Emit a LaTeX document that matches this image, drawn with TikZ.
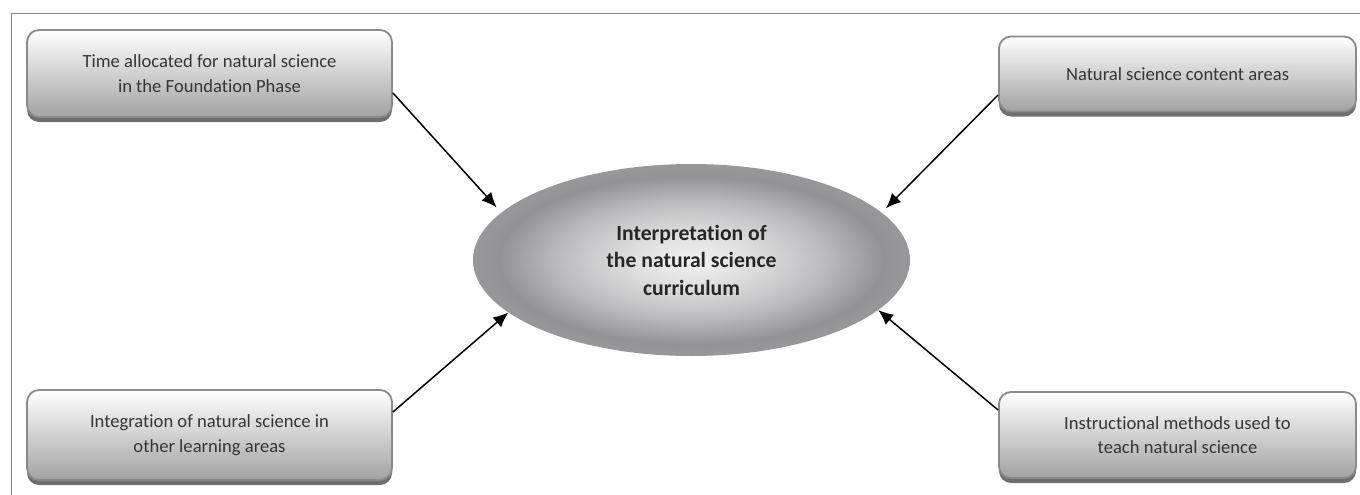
\documentclass[tikz,border=0pt]{standalone}
\usepackage{fontspec}
\setmainfont{Carlito}[Ligatures=NoCommon]
\usetikzlibrary{shapes.geometric,shadows,arrows.meta}
\definecolor{framec}{HTML}{858585}
\definecolor{boxborder}{HTML}{8A8A8A}
\definecolor{boxbottom}{HTML}{A2A2A2}
\definecolor{shadowc}{HTML}{6E6E6E}
\definecolor{textc}{HTML}{363636}
\definecolor{ec1}{HTML}{F2F2F2}
\definecolor{ec1b}{HTML}{DEDEDF}
\definecolor{ec2}{HTML}{BDBDBF}
\definecolor{ec3}{HTML}{939396}
\definecolor{ec4}{HTML}{98989B}
\pgfdeclareradialshading{ellshade}{\pgfpoint{0bp}{0bp}}{color(0bp)=(ec1); color(7bp)=(ec1b); color(15bp)=(ec2); color(22bp)=(ec3); color(25bp)=(ec4); color(50bp)=(ec4)}
\tikzset{
  infobox/.style={draw=boxborder, line width=1.8pt, rounded corners=12pt,
    top color=white, bottom color=boxbottom,
    drop shadow={shadow xshift=0pt, shadow yshift=-5pt, fill=shadowc, opacity=1},
    text=textc, align=center, inner sep=0pt,
    font=\fontsize{18.6}{24.5}\selectfont},
  centre/.style={ellipse, shading=ellshade, draw=none, minimum width=437pt,
    minimum height=192pt, inner sep=0pt, align=center, text=black!85,
    font=\fontsize{21.7}{27.5}\selectfont\bfseries},
  arr/.style={line width=1.5pt, -{Latex[length=15pt,width=13pt]}}
}
\begin{document}
\begin{tikzpicture}[x=1pt,y=-1pt]
\useasboundingbox (0,0) rectangle (1360,495);
\draw[framec, line width=1.5pt] (1360,13.5) -- (11.5,13.5) -- (11.5,495);

\node[infobox, minimum width=365pt, minimum height=87pt] (tl) at (209.5,73.5)
  {Time allocated for natural science\\in the Foundation Phase};
\node[infobox, minimum width=357pt, minimum height=75pt] (tr) at (1177.5,74)
  {Natural science content areas};
\node[infobox, minimum width=365pt, minimum height=90pt] (bl) at (209.5,435)
  {Integration of natural science in\\other learning areas};
\node[infobox, minimum width=357pt, minimum height=86pt] (br) at (1177.5,435)
  {Instructional methods used to\\teach natural science};

\node[centre] (ell) at (691.5,260)
  {Interpretation of\\the natural science\\curriculum};

\draw[arr, shorten >=7pt] ([yshift=-19.5pt]tl.east) -- (ell.166);
\draw[arr, shorten >=6pt] ([yshift=-21pt]tr.west) -- (ell.14);
\draw[arr] ([yshift=23pt]bl.east) -- (ell.196);
\draw[arr] ([yshift=25pt]br.west) -- (ell.-15);
\end{tikzpicture}
\end{document}
